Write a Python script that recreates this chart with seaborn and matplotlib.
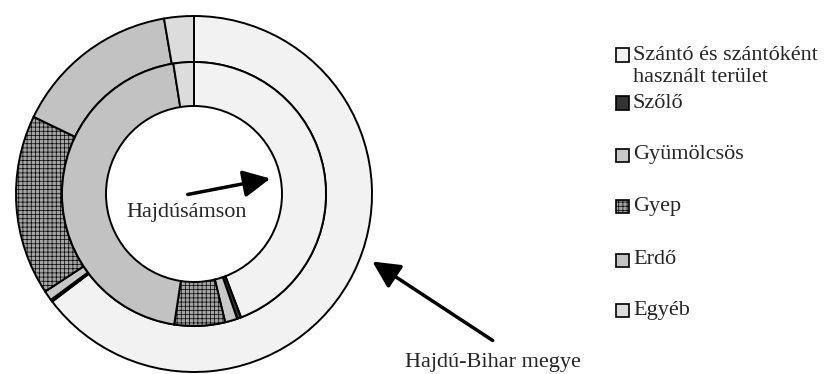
import matplotlib
matplotlib.use("Agg")
import matplotlib.pyplot as plt
import seaborn as sns
from matplotlib.patches import Rectangle, FancyArrowPatch

sns.set_theme(style="white")
plt.rcParams['font.family'] = ['Liberation Serif', 'DejaVu Serif']
plt.rcParams['hatch.color'] = '#7a7a7a'
plt.rcParams['hatch.linewidth'] = 0.5

categories = ["Szántó és szántóként\nhasznált terület", "Szőlő", "Gyümölcsös", "Gyep", "Erdő", "Egyéb"]
hajdusamson = [44.2, 0.5, 1.5, 6.2, 45.1, 2.5]      # inner ring
hajdu_bihar = [64.8, 0.2, 0.9, 16.4, 15.2, 2.7]     # outer ring
colors = ["#f2f2f2", "#333333", "#c8c8c8", "#a4a4a4", "#c2c2c2", "#dcdcdc"]
hatches = ["", "", "", "++++", "", ""]

fig = plt.figure(figsize=(8.28, 3.74), dpi=100)
W, H = 828, 374
cx, cy, R = 194, 194, 178
ax = fig.add_axes([(cx - R) / W, (H - cy - R) / H, 2 * R / W, 2 * R / H])

r_mid = 132 / 178
r_in = 88 / 178
wp = dict(edgecolor='black', linewidth=1.4)
w_out, _ = ax.pie(hajdu_bihar, radius=1.0, colors=colors, startangle=90, counterclock=False,
                  wedgeprops=dict(width=1 - r_mid, **wp))
w_in, _ = ax.pie(hajdusamson, radius=r_mid, colors=colors, startangle=90, counterclock=False,
                 wedgeprops=dict(width=r_mid - r_in, **wp))
for ws in (w_out, w_in):
    for w, h in zip(ws, hatches):
        if h:
            w.set_hatch(h)
ax.set_xlim(-1, 1)
ax.set_ylim(-1, 1)
ax.set_aspect('equal')
ax.axis('off')


def fx(px):
    return px / W


def fy(py):
    return 1 - py / H


fs = 16
fig.text(fx(187), fy(213), "Hajdúsámson", ha='center', va='center', fontsize=fs)
fig.text(fx(405), fy(362), "Hajdú-Bihar megye", ha='left', va='center', fontsize=fs)

for (x0, y0), (x1, y1) in [((185, 195), (273, 178)), ((495, 342), (370, 260))]:
    fig.add_artist(FancyArrowPatch((fx(x0), fy(y0)), (fx(x1), fy(y1)),
                   transform=fig.transFigure, arrowstyle='-|>,head_length=11,head_width=5.5',
                   color='black', linewidth=2.5, mutation_scale=1.5))

# legend
ys = [55, 103, 155, 207, 260, 310]
sw = 13
for lab, col, h, y in zip(categories, colors, hatches, ys):
    rect = Rectangle((fx(616), fy(y + sw / 2)), sw / W, sw / H, transform=fig.transFigure,
                     facecolor=col, edgecolor='black', linewidth=1.2, hatch=h)
    fig.add_artist(rect)
    lines = lab.split('\n')
    for i, line in enumerate(lines):
        fig.text(fx(633), fy(y + 22 * i), line, ha='left', va='center', fontsize=fs)

fig.savefig("out.png", dpi=100, facecolor='white')
